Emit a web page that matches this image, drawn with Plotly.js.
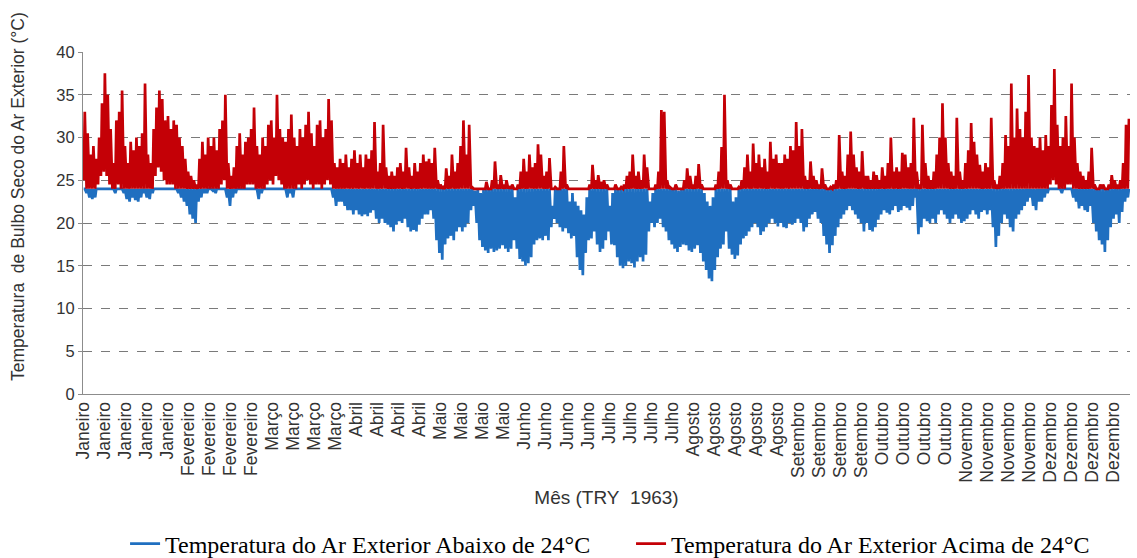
<!DOCTYPE html>
<html><head><meta charset="utf-8">
<script src="https://cdn.plot.ly/plotly-3.0.1.min.js"></script>
<style>html,body{margin:0;padding:0;background:#fff}#chart{width:1137px;height:558px}</style>
</head><body><div id="chart"></div>
<script>
// Daily maximum / minimum outdoor dry-bulb temperature (°C), TRY 1963
const janMax=[33,30.5,28,29,27.5,30,34,37.5,35,31,27,32,33,35.5,29,27,29.5,28.5,30,29,30.5,36.3,28,27,31,33.5,35.5,34.5,32,32.5,31];
const janMin=[25,23.5,23,22.8,23,24.5,25.5,26,25.5,24.5,24,23.5,24.5,24,23.5,22.8,22.5,23,22.7,22.5,23,23.5,23,22.8,23.5,25.5,26.5,26,25,24.5,24.5];
const febMax=[32,31.5,30,29,27.5,26,25.5,25,24.5,27.5,29.5,28,30,29,30,28.5,31,32,35,27,25.5,26.5,29,30.5,28,29.5,30,31];
const febMin=[24.5,24,23.5,23,22.5,22,21,20.5,20,22.5,23,23.5,23.5,24,23.8,23.5,24,24.5,25,23,22,23,23.5,24,24,24,24.5,24.5];
const marMax=[33.5,29,28,30,29,31.5,32,30,35,31,30,29.5,31,32.7,30,29,31,30,31.5,33,30.5,29,31.5,32,30,31,34.5,32,27,26.5,27.5];
const marMin=[24.5,24,22.8,23.5,24,24.5,25,24.5,25.5,25,24.5,24,23,23.5,23,24,24.5,24,24.5,25,24.5,24,24.5,24.5,24,24.5,25,24.5,23,22,22.5];
const aprMax=[27,28,26.5,27.5,28.5,27,28,26.5,28,27.5,28.5,31.8,26,27,31.5,26.5,25.5,26,25.5,26.5,27,26,28.8,26.5,25.5,27,26,27,28,27.2];
const aprMin=[22.5,22,21.5,21.5,21,21.5,21,20.8,21,20.8,21.2,21.5,20.5,20,20.5,20,19.8,19.5,19,19.8,20.2,20,20.5,19.5,19,19.2,19,19.8,20.5,21];
const mayMax=[27.5,27,28.8,25,24.5,24.2,26.4,25.5,28,26,27,29,32,28,31.5,24.2,23.8,24,23.5,24,24.8,24,25,27.2,24.5,25.6,24.5,25,24.3,24.5,23];
const mayMin=[21,21.5,20.5,18,16.5,15.7,17.5,18.2,18.5,18,19,19.5,19,19.5,20,21.5,22,20,18,17.2,16.8,16.5,17,16.6,16.8,17,17.4,17,16.6,17,18];
const junMax=[24.5,26,27.5,26,28,26.5,27,29.2,28,25.5,26,27.6,22,24.2,24,26,29,24.5,22.5,23.5,22.5,22,21.5,21,23,24.5,26.8,25,25.6,24.8];
const junMin=[17,15.8,15.5,15,15.3,16,17.5,18,18.2,18,18.5,18,19.5,20.5,20,19.5,19,19.4,18.8,18.2,18.5,16,14.5,13.9,16.5,18,18.2,19,17.5,16.6];
const julMax=[25,24.5,22,23.5,24.5,24,24.2,24.5,25.5,26,28,25.5,26,25,28,26.5,22.5,23.5,24.5,26,33.2,33,25,24.2,24,24.5,23.8,24,25,26.4,25.5];
const julMin=[17,18,19,17.5,17.4,16,15,14.7,15,15.5,15.3,14.8,15.5,16,15.5,16.3,19,20,19.5,20,20.5,19.5,19,18,17.5,17,16.6,17.2,17.5,17.4,16.8];
const augMax=[24.5,25.5,26.9,24.5,23.5,22.5,22,23,24.5,26,28.9,35,25,24.5,22.5,23,24.2,25,26.5,28,26,29.3,27,28,26.5,27.5,26,29.5,27.5,28,27];
const augMin=[16.6,17,17.4,16.5,15.5,14.5,13.5,13.2,14.5,16,17,17.5,19,17,16.3,15.8,16.2,17.5,18.2,18.5,19,19.5,20,19.5,18.6,19,19.5,20,20.5,20,19.6];
const sepMax=[27,28,27.5,29,28.5,31.8,29,31,25.5,25,27.2,25.5,25,24.5,26.4,24.5,24,24.2,24.5,25,30.3,26,25.5,28,30.7,28,26.5,26,28.4,25.5];
const sepMin=[20,19.5,19.4,20,19.8,20,20.5,20,19,19.5,20.5,21,21.3,20.5,20,18.5,17.5,16.5,17.4,18.5,19.5,20.5,21,21.5,22,21.5,21,20.5,20,19];
const octMax=[25.5,25,26,25.6,25,26.5,25.5,27,30,26,26.5,26,28.2,28,26.5,27,32.3,26,24.5,31.5,27,25.5,25,26,28,30,34,30,27,26,25.5];
const octMin=[20,19.2,19,19.5,20.4,21,21.5,21.2,21,21.5,22,21.3,21.5,22,21.8,21.5,22,23,18.7,19.5,20.5,20.2,20,20.5,20,21,21.5,21,20.5,20,20.5];
const novMax=[32.3,26,25,27,28.5,31.7,29.5,28,26.8,26,27,26.5,32.3,25,24.5,25.5,27,30.3,29,36.3,30,33.4,31,30,33,37.3,30,29,28.8,30];
const novMin=[21,20.5,20,20.2,20.5,21,21.5,21,20.5,21.3,21.5,21,21.5,19.5,17.2,18.5,20,21,20.5,19.5,19,20.5,21,21.5,22,22.5,23,22,21.5,22.5];
const decMax=[28.5,30.3,29,33.8,38,31.5,29,30,32.5,29,36.3,30,27,26,25.5,25,26,28.8,24.5,24,24.5,24.5,24,24.5,25.6,25,24.5,25,27,31.5,32.2];
const decMin=[22.5,23,23.5,24.5,25,24.5,24,23.5,24,24.5,24.5,23,22.5,21.7,22,21.5,21.3,22,20,19,18,17.5,16.6,18,19.5,20.5,21,20,21.3,22.5,23];

const threshold = 24;
const labelInterval = 176; // hours between category labels
const tickLabels = [
 "Janeiro","Janeiro","Janeiro","Janeiro","Janeiro",
 "Fevereiro","Fevereiro","Fevereiro","Fevereiro",
 "Março","Março","Março","Março",
 "Abril","Abril","Abril","Abril",
 "Maio","Maio","Maio","Maio",
 "Junho","Junho","Junho","Junho",
 "Julho","Julho","Julho","Julho",
 "Agosto","Agosto","Agosto","Agosto","Agosto",
 "Setembro","Setembro","Setembro","Setembro",
 "Outubro","Outubro","Outubro","Outubro",
 "Novembro","Novembro","Novembro","Novembro",
 "Dezembro","Dezembro","Dezembro","Dezembro"];
const seriesNames = ["Temperatura do Ar Exterior Abaixo de 24°C","Temperatura do Ar Exterior Acima de 24°C"];
const yTitle = 'Temperatura\u00A0 de Bulbo Seco do Ar Exterior (°C)';
const xTitle = 'Mês (TRY\u00A0 1963)';

const dailyMax = [].concat(janMax,febMax,marMax,aprMax,mayMax,junMax,julMax,augMax,sepMax,octMax,novMax,decMax);
const dailyMin = [].concat(janMin,febMin,marMin,aprMin,mayMin,junMin,julMin,augMin,sepMin,octMin,novMin,decMin);

const hours = [], temp = [];
for (let d = 0; d < dailyMax.length; d++) {
  hours.push(24*d + 6);  temp.push(dailyMin[d]);
  hours.push(24*d + 15); temp.push(dailyMax[d]);
}
const below = temp.map(t => Math.min(t, threshold));
const above = temp.map(t => Math.max(t, threshold));
const tickVals = tickLabels.map((_, i) => i * labelInterval);

const traces = [
  {x: hours, y: below, type: 'scatter', mode: 'lines', name: seriesNames[0],
   line: {color: '#1f6fc0', width: 2.7, simplify: false}, legend: 'legend'},
  {x: hours, y: above, type: 'scatter', mode: 'lines', name: seriesNames[1],
   line: {color: '#c40006', width: 2.7, simplify: false}, legend: 'legend2'}
];

const sans = 'Liberation Sans, Arial, sans-serif';
const layout = {
  width: 1137, height: 558,
  margin: {l: 83, r: 7, t: 52, b: 164},
  paper_bgcolor: '#fff', plot_bgcolor: '#fff',
  showlegend: true,
  xaxis: {
    range: [0, 8760], tickmode: 'array', tickvals: tickVals, ticktext: tickLabels,
    tickangle: -90, tickfont: {family: sans, size: 17.5, color: '#333'},
    showgrid: false, zeroline: false, showline: true, linecolor: '#8c8c8c', linewidth: 1,
    ticks: '',
    title: {text: xTitle, font: {family: sans, size: 19, color: '#333'}, standoff: 8}
  },
  yaxis: {
    range: [0, 40], dtick: 5, tick0: 0,
    tickfont: {family: sans, size: 16.5, color: '#333'},
    showgrid: true, gridcolor: '#7a7a7a', griddash: 'dash', gridwidth: 1,
    zeroline: false, showline: true, linecolor: '#8c8c8c', linewidth: 1,
    ticks: 'outside', ticklen: 4, tickcolor: '#8c8c8c'
  },
  annotations: [{
    text: yTitle, textangle: -90, showarrow: false,
    xref: 'paper', yref: 'paper', x: -0.062, y: 0.576, xanchor: 'center', yanchor: 'middle',
    font: {family: sans, size: 17.5, color: '#333'}
  }],
  legend: {orientation: 'h', xref: 'container', yref: 'container', x: 0.110, y: 0.025, xanchor: 'left', yanchor: 'middle',
    font: {family: 'Liberation Serif, Times New Roman, serif', size: 24, color: '#000'}, bgcolor: 'rgba(0,0,0,0)'},
  legend2: {orientation: 'h', xref: 'container', yref: 'container', x: 0.555, y: 0.025, xanchor: 'left', yanchor: 'middle',
    font: {family: 'Liberation Serif, Times New Roman, serif', size: 24, color: '#000'}, bgcolor: 'rgba(0,0,0,0)'}
};
Plotly.newPlot('chart', traces, layout, {displayModeBar: false, staticPlot: true});
</script></body></html>
